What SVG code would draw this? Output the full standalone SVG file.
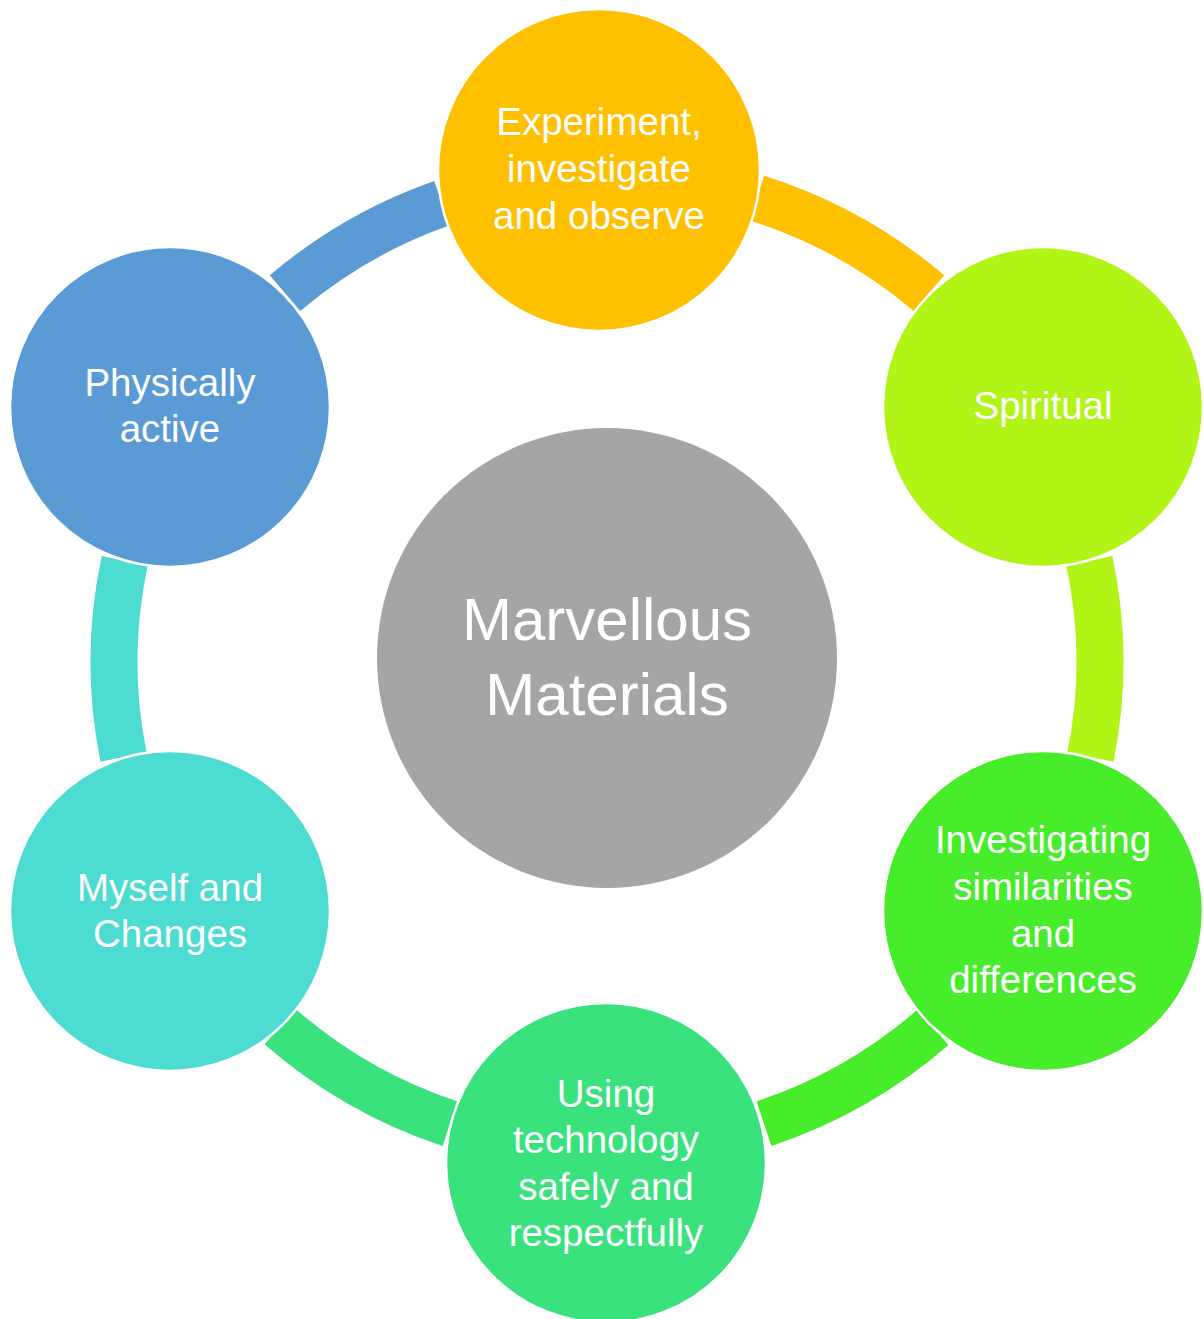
<svg xmlns="http://www.w3.org/2000/svg" width="1203" height="1319" viewBox="0 0 1203 1319">
<style>
.arc{fill:none;stroke-width:47;stroke-linecap:butt}
.node{stroke:#FFFFFF;stroke-width:2.5}
.lbl{font-family:"Liberation Sans",Arial,sans-serif;font-size:38.5px;fill:#FFFFFF;text-anchor:middle}
.big{font-family:"Liberation Sans",Arial,sans-serif;font-size:60px;fill:#FFFFFF;text-anchor:middle}
</style>
<rect width="1203" height="1319" fill="#FFFFFF"/>
<g id="connectors">
<path class="arc" stroke="#5B9BD5" d="M285,293.2 A493,487 0 0 1 442,203.1"/>
<path class="arc" stroke="#FFC000" d="M757,198.1 A493,487 0 0 1 929,293.2"/>
<path class="arc" stroke="#B2F416" d="M1089.3,561 A493,487 0 0 1 1090.5,757"/>
<path class="arc" stroke="#47EC2A" d="M933,1027.3 A493,487 0 0 1 764,1123.7"/>
<path class="arc" stroke="#3AE27E" d="M450,1123.7 A493,487 0 0 1 280,1026.5"/>
<path class="arc" stroke="#4CDCD2" d="M123.5,757 A493,487 0 0 1 124.7,561"/>
</g>
<g id="center">
<circle cx="607" cy="658" r="230" fill="#A5A5A5"/>
<text class="big" x="607" y="640">Marvellous</text>
<text class="big" x="607" y="715">Materials</text>
</g>
<g id="node-experiment">
<circle class="node" cx="599" cy="170" r="161" fill="#FFC000"/>
<text class="lbl" x="599" y="135">Experiment,</text>
<text class="lbl" x="599" y="182">investigate</text>
<text class="lbl" x="599" y="229">and observe</text>
</g>
<g id="node-spiritual">
<circle class="node" cx="1043" cy="407" r="160" fill="#B2F416"/>
<text class="lbl" x="1043" y="419">Spiritual</text>
</g>
<g id="node-investigating">
<circle class="node" cx="1043" cy="911" r="160" fill="#47EC2A"/>
<text class="lbl" x="1043" y="853">Investigating</text>
<text class="lbl" x="1043" y="900">similarities</text>
<text class="lbl" x="1043" y="947">and</text>
<text class="lbl" x="1043" y="993">differences</text>
</g>
<g id="node-technology">
<circle class="node" cx="606" cy="1163" r="160" fill="#3AE27E"/>
<text class="lbl" x="606" y="1107">Using</text>
<text class="lbl" x="606" y="1153">technology</text>
<text class="lbl" x="606" y="1200">safely and</text>
<text class="lbl" x="606" y="1246">respectfully</text>
</g>
<g id="node-myself">
<circle class="node" cx="170" cy="911" r="160" fill="#4CDCD2"/>
<text class="lbl" x="170" y="901">Myself and</text>
<text class="lbl" x="170" y="947">Changes</text>
</g>
<g id="node-physically">
<circle class="node" cx="170" cy="407" r="160" fill="#5B9BD5"/>
<text class="lbl" x="170" y="396">Physically</text>
<text class="lbl" x="170" y="442">active</text>
</g>
</svg>
